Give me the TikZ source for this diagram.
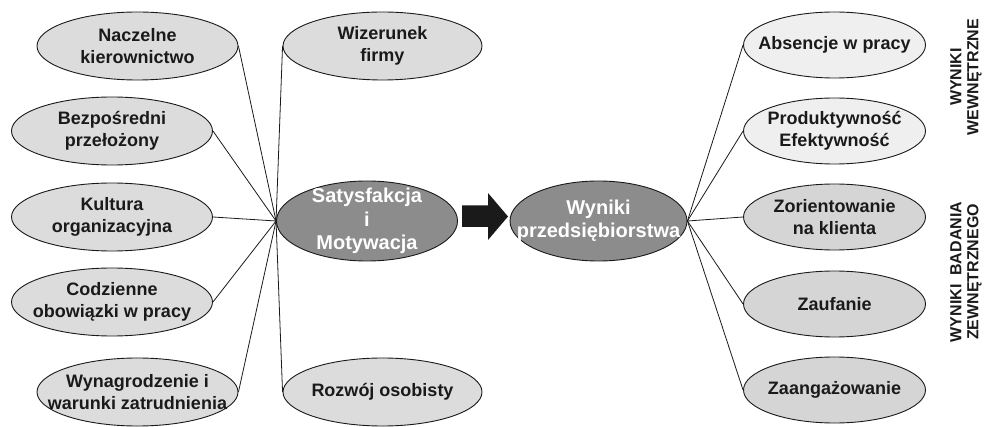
\documentclass[tikz,border=0pt]{standalone}
\usepackage{fontspec}
\setmainfont{Liberation Sans}
\usetikzlibrary{shapes.geometric}
\definecolor{leftfill}{HTML}{DCDCDC}
\definecolor{lightfill}{HTML}{EFEFEF}
\definecolor{rightfill}{HTML}{D5D5D5}
\definecolor{centerfill}{HTML}{8C8C8C}
\definecolor{ink}{HTML}{1A1A1A}
\tikzset{
  ovtxt/.style={align=center, inner sep=0pt, text=ink, font=\bfseries\fontsize{18}{22}\selectfont},
  cntxt/.style={align=center, inner sep=0pt, text=white, font=\bfseries\fontsize{20}{23.5}\selectfont},
  oval/.style={ellipse, draw=ink, line width=0.9pt, inner sep=0pt},
  leftoval/.style={oval, fill=leftfill, minimum width=201pt, minimum height=68pt},
  rightoval/.style={oval, minimum width=182pt, minimum height=66pt},
  centeroval/.style={oval, fill=centerfill, minimum height=80pt},
  link/.style={draw=ink, line width=0.8pt},
  sidelabel/.style={rotate=90, align=center, text=ink, font=\bfseries\fontsize{16}{17}\selectfont}
}
\begin{document}
\begin{tikzpicture}[x=1pt,y=-1pt]
\useasboundingbox (0,0) rectangle (984,427);
% center nodes
\node[centeroval, minimum width=181pt, label={[cntxt]center:{Satysfakcja\\i\\Motywacja}}] (sat) at (367,221) {};
\node[centeroval, minimum width=177pt, label={[cntxt]center:{Wyniki\\przedsiębiorstwa}}] (wyn) at (598.5,221) {};
% left nodes
\node[leftoval, label={[ovtxt]center:{Naczelne\\kierownictwo}}] (nk) at (137.5,46) {};
\node[leftoval, label={[ovtxt]center:{Bezpośredni\\przełożony}}] (bp) at (112,131) {};
\node[leftoval, label={[ovtxt]center:{Kultura\\organizacyjna}}] (ko) at (112,217) {};
\node[leftoval, label={[ovtxt]center:{Codzienne\\obowiązki w pracy}}] (co) at (112,302) {};
\node[leftoval, label={[ovtxt]center:{Wynagrodzenie i\\warunki zatrudnienia}}] (wz) at (137.5,392) {};
\node[leftoval, minimum width=199pt, label={[ovtxt]center:{Wizerunek\\firmy}}] (wf) at (382.5,46) {};
\node[leftoval, minimum width=199pt, label={[ovtxt]center:{Rozwój osobisty}}] (ro) at (382.5,392) {};
% right nodes
\node[rightoval, fill=lightfill, label={[ovtxt]center:{Absencje w pracy}}] (ab) at (834.5,45) {};
\node[rightoval, fill=lightfill, label={[ovtxt]center:{Produktywność\\Efektywność}}] (pe) at (834.5,131) {};
\node[rightoval, fill=rightfill, label={[ovtxt]center:{Zorientowanie\\na klienta}}] (zk) at (834.5,217) {};
\node[rightoval, fill=rightfill, label={[ovtxt]center:{Zaufanie}}] (za) at (834.5,304) {};
\node[rightoval, fill=rightfill, label={[ovtxt]center:{Zaangażowanie}}] (zg) at (834.5,390) {};
% connectors left
\foreach \n in {nk,bp,ko,co,wz} \draw[link] (\n.east) -- (sat.west);
\foreach \n in {wf,ro} \draw[link] (\n.west) -- (sat.west);
% connectors right
\foreach \n in {ab,pe,zk,za,zg} \draw[link] (wyn.east) -- (\n.west);
% big arrow
\fill[ink] (462,205.5) -- (488,205.5) -- (488,193) -- (508,216.5) -- (488,240) -- (488,227) -- (462,227) -- cycle;
% side labels
\node[sidelabel] (lab1) at (966,77) {WYNIKI\\WEWNĘTRZNE};
\node[sidelabel] (lab2) at (966,272) {WYNIKI~~BADANIA\\ZEWNĘTRZNEGO};
\end{tikzpicture}
\end{document}
